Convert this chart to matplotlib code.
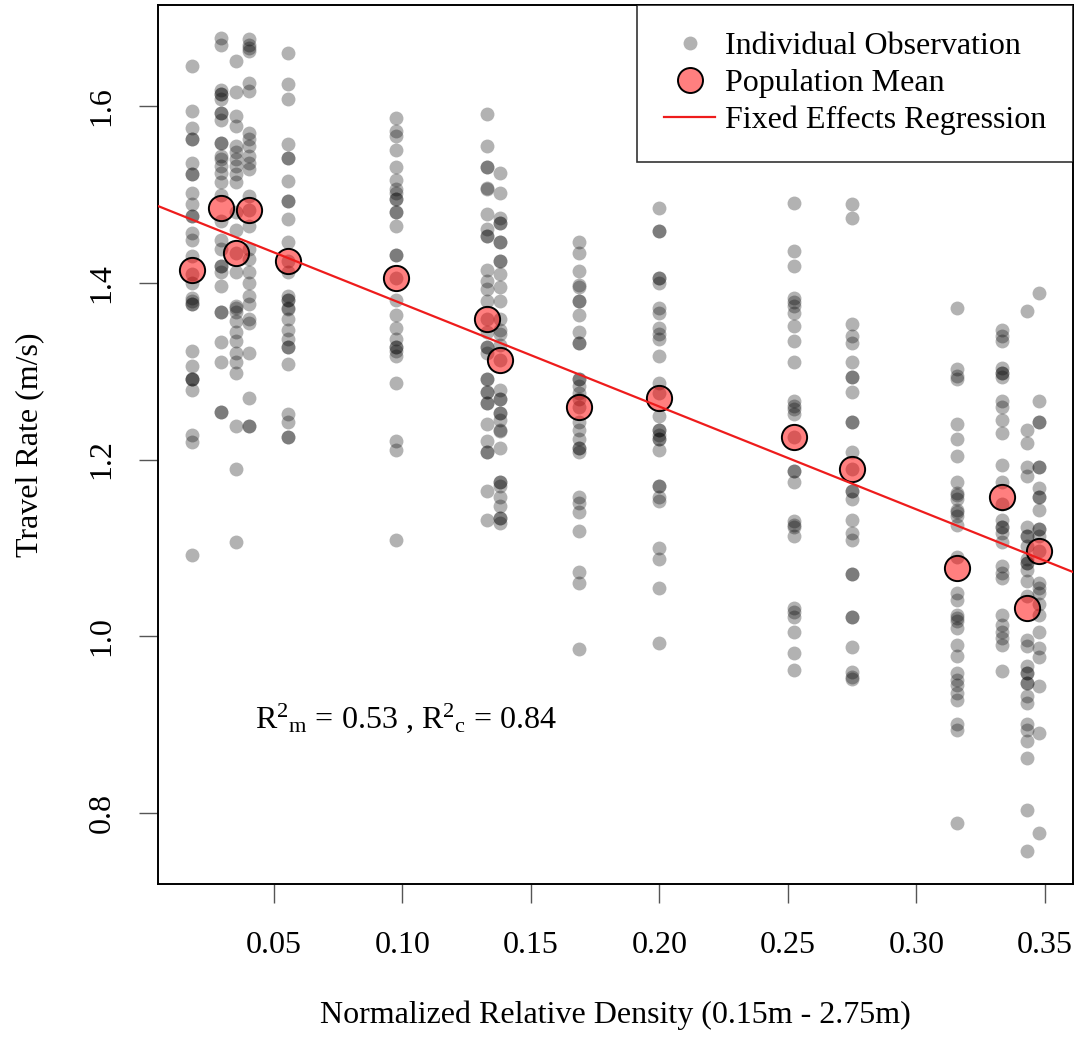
import numpy as np
import matplotlib
matplotlib.use("Agg")
import matplotlib.pyplot as plt
from matplotlib.lines import Line2D

plt.rcParams['font.family'] = ['Liberation Serif', 'DejaVu Serif']
plt.rcParams['mathtext.fontset'] = 'custom'
plt.rcParams['mathtext.rm'] = 'Liberation Serif'
plt.rcParams['mathtext.it'] = 'Liberation Serif:italic'

# relative density of each population (x position of each column)
density = [0.0182, 0.0295, 0.0354, 0.0405, 0.0557, 0.0976, 0.1328, 0.1382,
           0.1687, 0.1998, 0.2523, 0.2751, 0.3159, 0.3334, 0.3429, 0.3477]

# individual travel rates (m/s), one list per population
travel_rate = [
    [1.646, 1.595, 1.576, 1.563, 1.563, 1.536, 1.523, 1.523, 1.502, 1.489, 1.476, 1.476,
     1.457, 1.449, 1.430, 1.410, 1.400, 1.383, 1.380, 1.376, 1.376, 1.323, 1.306, 1.291,
     1.291, 1.291, 1.279, 1.228, 1.220, 1.092],
    [1.678, 1.670, 1.619, 1.614, 1.614, 1.608, 1.593, 1.593, 1.585, 1.559, 1.559, 1.544,
     1.540, 1.532, 1.525, 1.514, 1.500, 1.470, 1.449, 1.438, 1.419, 1.419, 1.412, 1.396,
     1.367, 1.367, 1.333, 1.311, 1.254, 1.254],
    [1.651, 1.616, 1.589, 1.578, 1.555, 1.548, 1.540, 1.532, 1.523, 1.514, 1.480, 1.460,
     1.434, 1.412, 1.374, 1.367, 1.372, 1.357, 1.345, 1.334, 1.321, 1.311, 1.298, 1.238,
     1.189, 1.107],
    [1.676, 1.670, 1.666, 1.663, 1.627, 1.617, 1.570, 1.563, 1.555, 1.544, 1.536, 1.529,
     1.498, 1.483, 1.464, 1.438, 1.427, 1.412, 1.400, 1.385, 1.376, 1.359, 1.355, 1.321,
     1.270, 1.238, 1.238],
    [1.661, 1.625, 1.608, 1.557, 1.542, 1.542, 1.515, 1.493, 1.493, 1.472, 1.446, 1.425,
     1.412, 1.385, 1.370, 1.381, 1.381, 1.372, 1.359, 1.347, 1.336, 1.327, 1.327, 1.308,
     1.251, 1.242, 1.225, 1.225],
    [1.587, 1.572, 1.566, 1.551, 1.531, 1.517, 1.506, 1.502, 1.495, 1.495, 1.480, 1.480,
     1.464, 1.432, 1.432, 1.406, 1.381, 1.364, 1.349, 1.336, 1.328, 1.328, 1.323, 1.317,
     1.287, 1.221, 1.211, 1.109],
    [1.591, 1.555, 1.531, 1.531, 1.508, 1.506, 1.478, 1.461, 1.453, 1.453, 1.415, 1.402,
     1.393, 1.380, 1.359, 1.344, 1.328, 1.328, 1.321, 1.291, 1.291, 1.276, 1.276, 1.264,
     1.264, 1.240, 1.221, 1.208, 1.208, 1.164, 1.132],
    [1.525, 1.502, 1.474, 1.468, 1.468, 1.446, 1.446, 1.425, 1.425, 1.410, 1.395, 1.379,
     1.359, 1.347, 1.342, 1.330, 1.313, 1.279, 1.268, 1.268, 1.253, 1.253, 1.245, 1.234,
     1.232, 1.213, 1.175, 1.175, 1.170, 1.157, 1.147, 1.134, 1.134, 1.128],
    [1.446, 1.434, 1.413, 1.398, 1.395, 1.379, 1.379, 1.364, 1.345, 1.332, 1.332, 1.291,
     1.291, 1.283, 1.275, 1.268, 1.260, 1.242, 1.234, 1.223, 1.213, 1.213, 1.208, 1.158,
     1.151, 1.141, 1.119, 1.073, 1.060, 0.985],
    [1.485, 1.459, 1.459, 1.406, 1.406, 1.400, 1.372, 1.366, 1.349, 1.342, 1.336, 1.317,
     1.287, 1.275, 1.249, 1.234, 1.234, 1.228, 1.223, 1.223, 1.211, 1.170, 1.170, 1.158,
     1.153, 1.100, 1.087, 1.055, 0.992],
    [1.491, 1.436, 1.419, 1.383, 1.378, 1.374, 1.366, 1.351, 1.334, 1.310, 1.266, 1.261,
     1.257, 1.251, 1.226, 1.187, 1.187, 1.174, 1.130, 1.126, 1.123, 1.113, 1.032, 1.027,
     1.022, 1.005, 0.981, 0.962],
    [1.489, 1.474, 1.353, 1.340, 1.332, 1.310, 1.293, 1.293, 1.277, 1.242, 1.242, 1.208,
     1.189, 1.164, 1.164, 1.155, 1.132, 1.117, 1.109, 1.070, 1.070, 1.022, 1.022, 0.988,
     0.959, 0.954, 0.951],
    [1.372, 1.302, 1.295, 1.291, 1.240, 1.223, 1.204, 1.175, 1.162, 1.160, 1.155, 1.143,
     1.140, 1.136, 1.126, 1.090, 1.049, 1.041, 1.024, 1.020, 1.017, 1.009, 0.990, 0.977,
     0.958, 0.950, 0.945, 0.936, 0.928, 0.900, 0.894, 0.788],
    [1.347, 1.340, 1.334, 1.304, 1.298, 1.298, 1.293, 1.266, 1.260, 1.245, 1.230, 1.194,
     1.175, 1.150, 1.132, 1.124, 1.124, 1.117, 1.106, 1.079, 1.072, 1.066, 1.024, 1.013,
     1.005, 0.998, 0.990, 0.960],
    [1.368, 1.234, 1.219, 1.191, 1.181, 1.124, 1.113, 1.113, 1.102, 1.087, 1.083, 1.083,
     1.075, 1.062, 1.045, 0.996, 0.989, 0.966, 0.958, 0.958, 0.947, 0.947, 0.932, 0.924,
     0.900, 0.894, 0.881, 0.862, 0.803, 0.756],
    [1.389, 1.266, 1.242, 1.242, 1.191, 1.191, 1.168, 1.157, 1.157, 1.143, 1.121, 1.121,
     1.113, 1.096, 1.060, 1.055, 1.049, 1.036, 1.024, 1.005, 0.987, 0.976, 0.943, 0.890,
     0.777],
]

# population means
mean_rate = [1.415, 1.485, 1.434, 1.483, 1.425, 1.406, 1.359, 1.313,
             1.260, 1.270, 1.226, 1.189, 1.077, 1.158, 1.032, 1.096]

# fixed effects regression line
fe_intercept = 1.493
fe_slope = -1.165

x_obs = np.concatenate([[d] * len(r) for d, r in zip(density, travel_rate)])
y_obs = np.concatenate(travel_rate)

fig = plt.figure(figsize=(10.8, 10.41), dpi=100)
ax = fig.add_axes([0.1463, 0.1508, 0.8472, 0.8444])

ax.scatter(x_obs, y_obs, s=100, color='black', alpha=0.3, linewidths=0, zorder=2)
ax.scatter(density, mean_rate, s=330, facecolors=(1, 0, 0, 0.5),
           edgecolors='black', linewidths=1.4, zorder=3)
ax.axline((0, fe_intercept), slope=fe_slope, color='#ee1c1c', lw=1.6, zorder=4)

# R style axis ranges (4% padding)
xr = max(density) - min(density)
yr = y_obs.max() - y_obs.min()
ax.set_xlim(min(density) - 0.04 * xr, max(density) + 0.04 * xr)
ax.set_ylim(y_obs.min() - 0.04 * yr, y_obs.max() + 0.04 * yr)

ax.set_xticks([0.05, 0.10, 0.15, 0.20, 0.25, 0.30, 0.35])
ax.set_xticklabels(['0.05', '0.10', '0.15', '0.20', '0.25', '0.30', '0.35'])
ax.set_yticks([0.8, 1.0, 1.2, 1.4, 1.6])
ax.set_yticklabels(['0.8', '1.0', '1.2', '1.4', '1.6'], rotation=90, va='center')

for s in ax.spines.values():
    s.set_linewidth(1.4)
ax.tick_params(axis='x', length=14, width=1, color='#555555', pad=20, labelsize=23)
ax.tick_params(axis='y', length=14, width=1, color='#555555', pad=16, labelsize=23)

ax.set_xlabel('Normalized Relative Density (0.15m - 2.75m)', fontsize=23)
ax.set_ylabel('Travel Rate (m/s)', fontsize=23)
ax.xaxis.set_label_coords(0.5, -0.133)
ax.yaxis.set_label_coords(-0.1246, 0.5)

ax.text(0.0429, 0.8963, r'R$^2$$_\mathrm{m}$ = 0.53 , R$^2$$_\mathrm{c}$ = 0.84',
        fontsize=23, ha='left', va='baseline')

handles = [
    Line2D([], [], ls='none', marker='o', markersize=10,
           markerfacecolor=(0, 0, 0, 0.3), markeredgewidth=0),
    Line2D([], [], ls='none', marker='o', markersize=18,
           markerfacecolor=(1, 0, 0, 0.5), markeredgecolor='black', markeredgewidth=1.4),
    Line2D([], [], color='#ee1c1c', lw=1.6),
]
leg = ax.legend(handles, ['Individual Observation', 'Population Mean', 'Fixed Effects Regression'],
                loc='upper right', borderaxespad=0, fontsize=23, frameon=True,
                fancybox=False, edgecolor='black', handlelength=1.6,
                handletextpad=0.3, labelspacing=0.23, borderpad=0.84)
leg.get_frame().set_linewidth(1.2)

fig.savefig('out.png', dpi=100)
